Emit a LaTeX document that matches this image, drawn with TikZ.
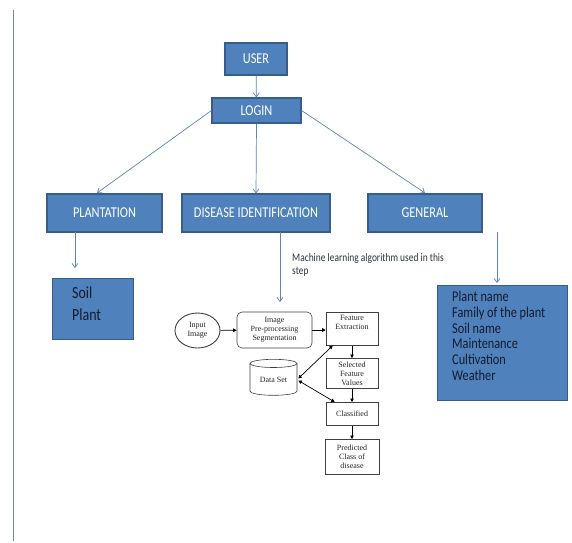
\documentclass[tikz,border=0pt]{standalone}
\usepackage{fontspec}
\setmainfont{Carlito}
\newfontfamily\boxfont[FakeStretch=0.82]{Carlito}
\newfontfamily\fcfont{Liberation Serif}
\usetikzlibrary{arrows.meta,shapes.geometric,calc}
\definecolor{boxblue}{HTML}{4F81BD}
\definecolor{boxedge}{HTML}{385D8A}
\definecolor{arrblue}{HTML}{5B84B8}
\definecolor{darktext}{HTML}{141C2C}
\definecolor{sideline}{HTML}{7A8A9A}
\tikzset{
  topbox/.style={draw=boxedge, line width=1.2pt, fill=boxblue, text=white, font=\boxfont\fontsize{15}{17}\selectfont, inner sep=0pt},
  listbox/.style={draw=boxedge, line width=1.2pt, fill=boxblue, inner sep=0pt},
  listtext/.style={text=darktext, align=left, anchor=north west, inner sep=0pt},
  conn/.style={draw=arrblue, line width=0.7pt, -{Straight Barb[length=4pt,width=6pt]}},
  fcbox/.style={draw=black!75, line width=0.6pt, fill=white, font=\fcfont\fontsize{8}{9}\selectfont, align=center, inner sep=1pt, text=black!85},
  fcarr/.style={draw=black, line width=0.7pt, -{Triangle[length=3.5pt,width=3.5pt]}},
  fcdbl/.style={draw=black, line width=0.7pt, {Triangle[length=3.5pt,width=3.5pt]}-{Triangle[length=3.5pt,width=3.5pt]}}
}
\begin{document}
\begin{tikzpicture}[x=1pt,y=-1pt]
\useasboundingbox[fill=white] (0,0) rectangle (572,542);
\draw[sideline, line width=0.8pt] (13,10) coordinate (lt) -- (13,541) coordinate (lb);

\node[topbox, minimum width=62, minimum height=32] (user) at (256,59) {USER};
\node[topbox, minimum width=89, minimum height=25] (login) at (256.5,110.5) {LOGIN};
\node[topbox, minimum width=115, minimum height=38] (plant) at (104.5,213) {PLANTATION};
\node[topbox, minimum width=148, minimum height=38] (dis) at (256,213) {DISEASE IDENTIFICATION};
\node[topbox, minimum width=114, minimum height=38] (gen) at (425,213) {GENERAL};

\node[listbox, minimum width=81, minimum height=61, anchor=north west] (soil) at (52,278) {};
\node[listtext, font=\boxfont\fontsize{17}{22}\selectfont] (soiltext) at (72,286) {Soil\\Plant};
\node[listbox, minimum width=130, minimum height=115, anchor=north west] (glist) at (437,285) {};
\node[listtext, font=\boxfont\fontsize{15}{15.7}\selectfont] (gtext) at (452,291) {Plant name\\Family of the plant\\Soil name\\Maintenance\\Cultivation\\Weather};

\draw[conn] (user) -- (login);
\draw[conn] (login.west) -- (97,193);
\draw[conn] (login.south) -- (dis.north);
\draw[conn] (login.east) -- (425,193);
\draw[conn] (75,232) -- (75,268);
\draw[conn] (497,232) -- (497,283);
\coordinate (mltip) at (280,302);
\draw[conn] (280,232) -- (mltip);

\node[font=\boxfont\fontsize{11.5}{13}\selectfont, text=darktext!90, align=left, anchor=north west, inner sep=0pt] (ml) at (292,253) {Machine learning algorithm used in this\\step};

% flowchart
\node[fcbox, ellipse, line width=0.9pt, minimum width=45, minimum height=35, inner sep=0pt] (inp) at (197.5,330.5) {Input\\Image};
\node[fcbox, rounded corners=5pt, minimum width=75, minimum height=36] (pre) at (274.5,330) {Image\\Pre-processing\\Segmentation};
\node[fcbox, minimum width=52, minimum height=33, anchor=north, text depth=12pt] (fe) at (352,312) {Feature\\Extraction};
\node[fcbox, minimum width=52, minimum height=30, anchor=north] (sel) at (352,358) {Selected\\Feature\\Values};
\node[fcbox, minimum width=52, minimum height=23, anchor=north] (cls) at (352,402) {Classified};
\node[fcbox, minimum width=54, minimum height=35, anchor=north] (pred) at (352,439) {Predicted\\Class of\\disease};
\node[fcbox, cylinder, shape border rotate=90, aspect=0.3, minimum width=47, minimum height=36, inner sep=0pt] (ds) at (273.5,379.5) {Data Set};

\draw[fcarr] (inp) -- (pre);
\draw[fcarr] (pre) -- (fe.west |- pre.east);
\draw[fcarr] (fe) -- (sel);
\draw[fcarr] (sel) -- (cls);
\draw[fcarr] (cls) -- (pred);
\draw[fcdbl] ($(ds.east)+(1,-1)$) -- ($(fe.south west)+(7,0)$);
\draw[fcdbl] ($(ds.east)+(1,1)$) -- ($(cls.north west)+(9,0)$);
\end{tikzpicture}
\end{document}
